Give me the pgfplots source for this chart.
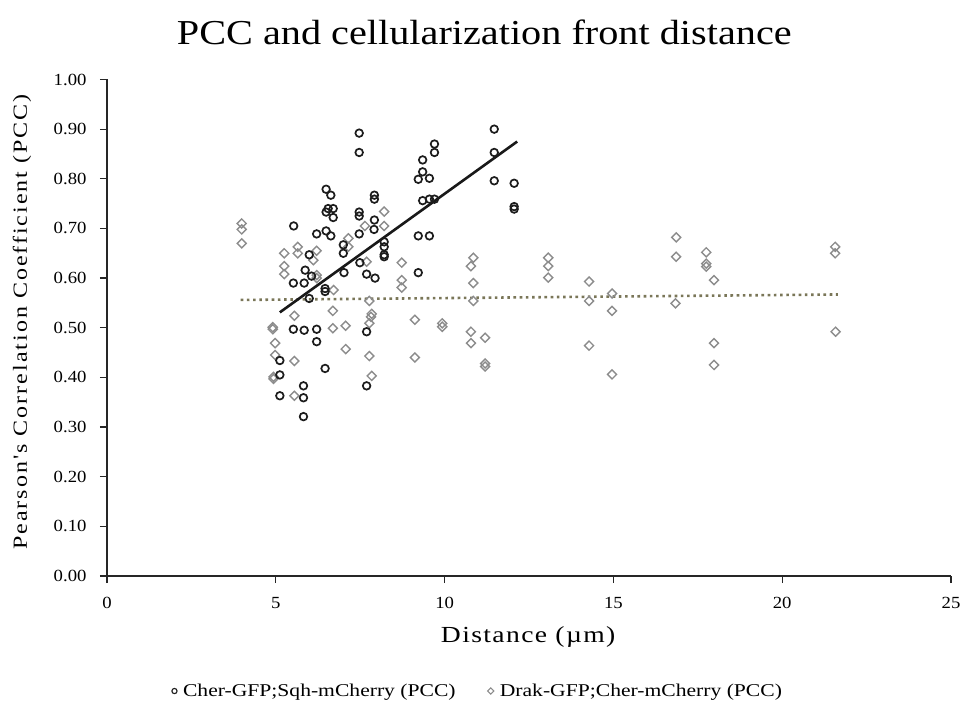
\documentclass[border=0pt]{standalone}
\usepackage{fontspec}
\setmainfont{Liberation Serif}
\usepackage{pgfplots}
\pgfplotsset{compat=1.18}
\definecolor{dotc}{RGB}{122,118,88}
\definecolor{diac}{RGB}{140,140,140}
\definecolor{circc}{RGB}{28,28,28}
\newfontfamily\lblfont[FakeStretch=1.2, LetterSpace=10]{Liberation Serif}
\newfontfamily\xlblfont[FakeStretch=1.2, LetterSpace=6]{Liberation Serif}
\newfontfamily\ttlfont[FakeStretch=1.15]{Liberation Serif}
\newfontfamily\legfont[FakeStretch=1.2]{Liberation Serif}
\newfontfamily\tickfont[FakeStretch=1.1]{Liberation Serif}
\begin{document}
\begin{tikzpicture}[x=1pt,y=1pt]
\path[use as bounding box] (0,0) rectangle (963,725);
\begin{axis}[
  at={(107pt,149pt)}, anchor=south west,
  scale only axis, width=844pt, height=496.5pt,
  xmin=0, xmax=25, ymin=0, ymax=1,
  axis lines=left,
  axis line style={-, line width=1.3pt, color=black!85},
  xtick={0,5,10,15,20,25},
  ytick={0,0.1,0.2,0.3,0.4,0.5,0.6,0.7,0.8,0.9,1.0},
  tick align=outside, major tick length=7pt,
  tick style={line width=1.2pt, color=black!85},
  /pgf/number format/assume math mode=true,
  yticklabel style={/pgf/number format/.cd, fixed, fixed zerofill, precision=2, /tikz/.cd, xshift=-10pt},
  ticklabel style={font=\tickfont\fontsize{17}{17}\selectfont},
  xticklabel style={yshift=-11pt},
  title={\ttlfont\fontsize{35}{35}\selectfont PCC and cellularization front distance},
  title style={at={(0.447,1.0836)}, anchor=center},
  xlabel={\xlblfont\fontsize{23}{23}\selectfont Distance (µm)},
  xlabel style={at={(0.499,-0.1229)}, anchor=center},
  ylabel={\lblfont\fontsize{20}{20}\selectfont Pearson's Correlation Coefficient (PCC)},
  ylabel style={at={(-0.1007,0.5116)}, anchor=center, rotate=0},
  legend style={at={(0.4395,-0.2317)}, anchor=center, draw=none, legend columns=2,
    font=\legfont\fontsize{18}{18}\selectfont,
    /tikz/every odd column/.append style={column sep=4pt},
    /tikz/every even column/.append style={column sep=30pt}},
  legend cell align=left,
]
\addlegendimage{only marks, mark=o, mark size=2.6pt, mark options={line width=1.1pt, draw=circc}}
\addlegendentry{Cher-GFP;Sqh-mCherry (PCC)}
\addlegendimage{only marks, mark=square, mark size=2.2pt, mark options={rotate=45, line width=1.1pt, draw=diac}}
\addlegendentry{Drak-GFP;Cher-mCherry (PCC)}

\addplot[forget plot, only marks, mark=square, mark size=3.2pt, mark options={rotate=45, line width=1.4pt, draw=diac}] coordinates {
(3.99,0.710) (3.99,0.698) (3.99,0.670)
(5.25,0.650) (5.65,0.663) (5.65,0.650) (6.21,0.655) (7.15,0.680) (7.15,0.663)
(7.64,0.705) (8.21,0.734) (8.21,0.705)
(6.11,0.636) (5.25,0.624) (5.25,0.608) (6.21,0.606) (6.21,0.600) (6.71,0.576)
(7.69,0.633) (8.73,0.631) (8.73,0.596) (8.73,0.581) (7.77,0.554) (6.69,0.534)
(5.55,0.524) (7.84,0.528) (7.82,0.522) (9.12,0.516) (4.91,0.501) (4.91,0.497)
(6.69,0.499) (7.07,0.504) (7.77,0.509) (4.98,0.469) (4.98,0.445) (7.07,0.457)
(5.55,0.433) (7.77,0.443) (9.12,0.440) (4.93,0.401) (4.93,0.397) (7.84,0.403)
(5.55,0.363)
(10.85,0.641) (10.78,0.624) (10.85,0.590) (10.85,0.554) (13.07,0.641) (13.07,0.624)
(13.07,0.601) (14.28,0.593) (14.28,0.554)
(9.93,0.509) (9.93,0.502) (10.78,0.492) (10.78,0.469) (11.20,0.480) (11.20,0.428)
(11.20,0.422) (14.28,0.464) (14.96,0.569) (14.96,0.534) (14.96,0.406)
(16.86,0.682) (16.86,0.643) (16.84,0.549) (17.75,0.652) (17.75,0.629) (17.75,0.623)
(17.98,0.596) (17.98,0.469) (17.98,0.425) (21.57,0.663) (21.57,0.650) (21.58,0.492)
};

\addplot[forget plot, only marks, mark=o, mark size=3.8pt, mark options={line width=1.7pt, draw=circc}] coordinates {
(7.47,0.892) (7.47,0.853) (6.49,0.779) (6.63,0.767) (7.92,0.767) (7.92,0.759)
(6.70,0.740) (6.55,0.740) (6.49,0.733) (6.70,0.722) (7.47,0.733) (7.47,0.725)
(7.92,0.717) (7.91,0.698) (5.53,0.705) (6.21,0.689) (6.49,0.695) (6.63,0.685)
(7.47,0.689) (8.21,0.673) (8.21,0.663) (7.00,0.667) (7.00,0.650) (5.99,0.647)
(8.21,0.647) (5.87,0.616) (5.52,0.590) (5.84,0.590) (6.06,0.604) (6.46,0.579)
(6.46,0.573) (7.02,0.611) (7.49,0.631) (7.69,0.608) (7.94,0.600) (8.21,0.643)
(9.22,0.611) (5.99,0.559) (5.52,0.497) (5.84,0.495) (6.21,0.497) (6.21,0.472)
(7.69,0.492) (5.12,0.434) (5.12,0.405) (6.46,0.418) (5.82,0.383) (5.82,0.359)
(5.12,0.363) (7.69,0.383) (5.82,0.321)
(11.47,0.900) (11.47,0.853) (9.70,0.870) (9.70,0.853) (9.35,0.838) (9.35,0.814)
(9.22,0.799) (9.55,0.801) (11.47,0.796) (12.06,0.791) (9.35,0.756) (9.55,0.759)
(9.70,0.759) (12.06,0.744) (12.06,0.739) (9.22,0.685) (9.55,0.685)
};

\addplot[forget plot, no marks, color=dotc, line width=2.6pt, dash pattern=on 2.6pt off 3.6pt] coordinates {(3.96,0.556) (21.65,0.567)};
\addplot[forget plot, no marks, color=black!90, line width=2.6pt] coordinates {(5.12,0.531) (12.15,0.875)};
\end{axis}
\end{tikzpicture}
\end{document}
